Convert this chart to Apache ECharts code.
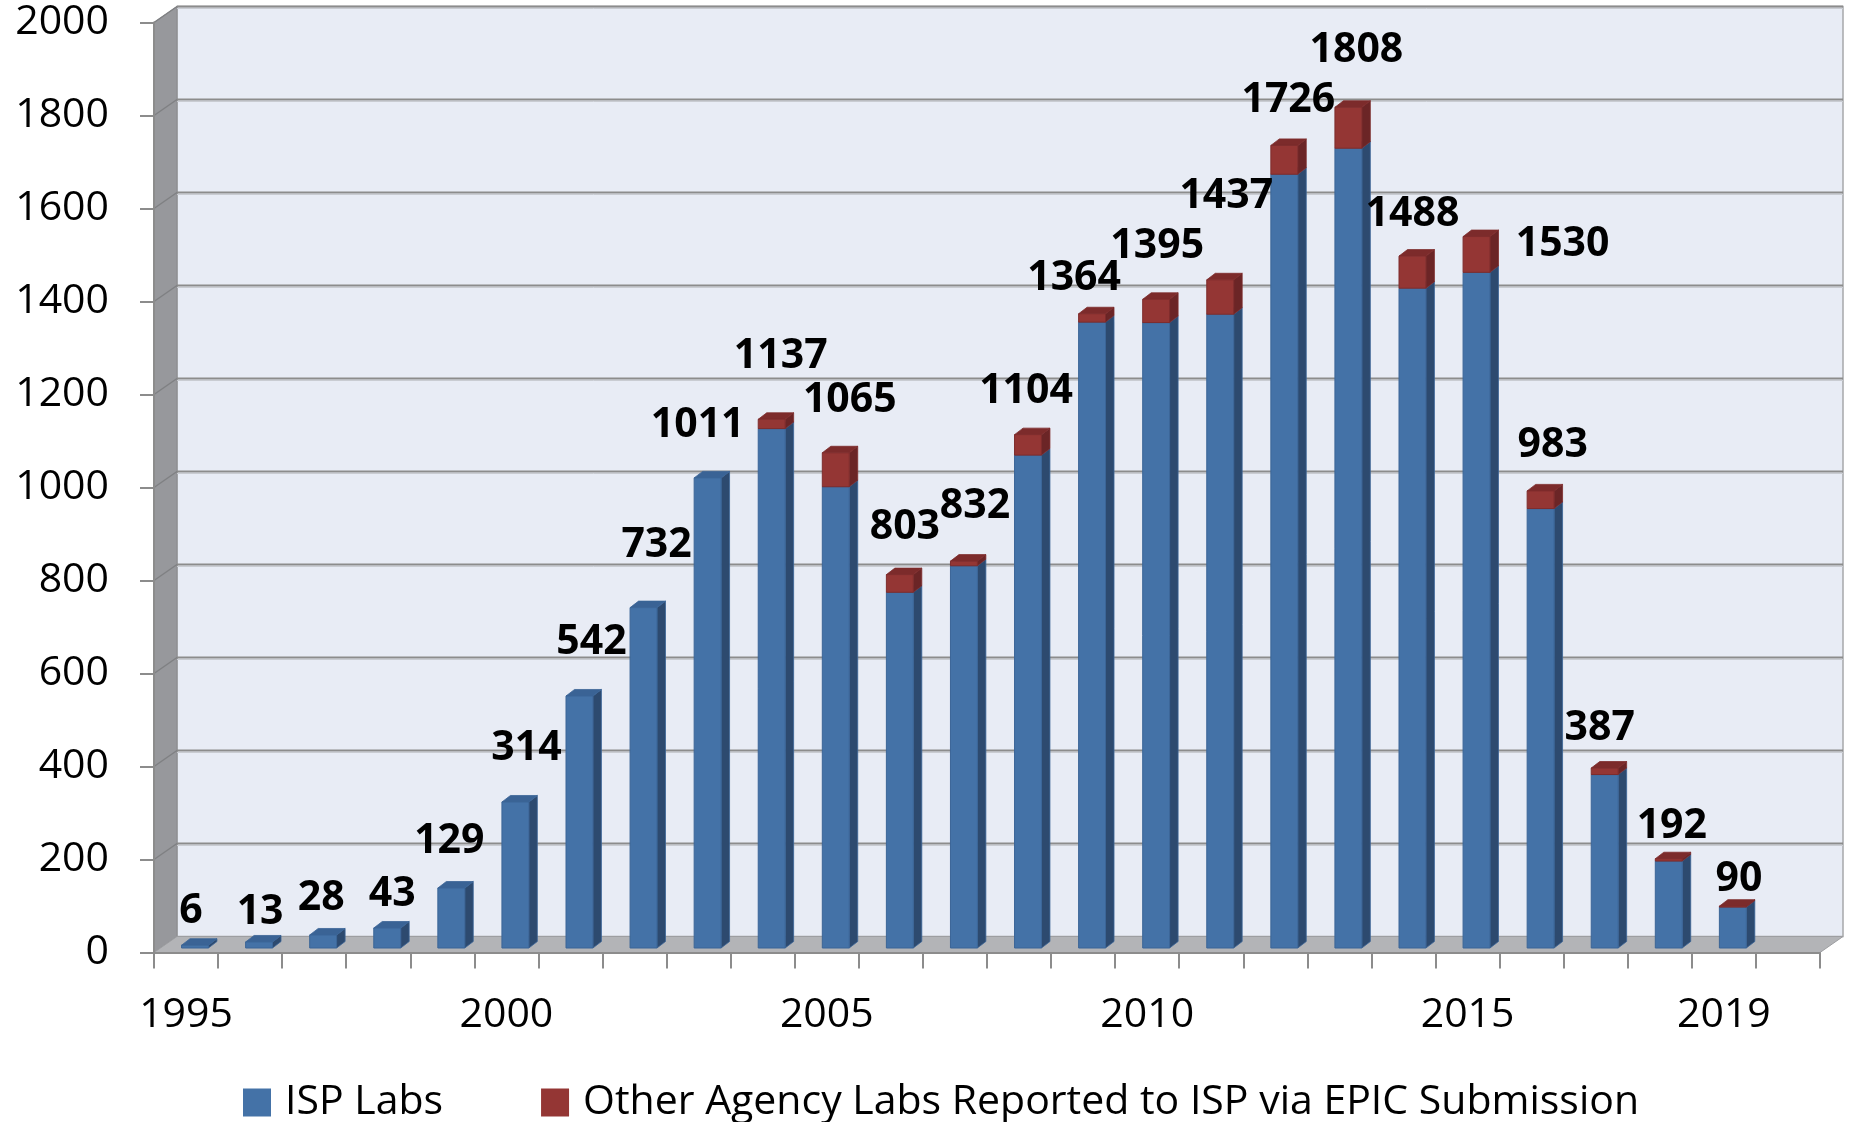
<!DOCTYPE html>
<html lang="en">
<head>
    <meta charset="UTF-8">
    <title>ISP Labs per year</title>
    <script src="https://cdn.jsdelivr.net/npm/echarts@6/dist/echarts.min.js"></script>
    <style>
        html, body { margin: 0; padding: 0; background: #fff; }
        #main { width: 1850px; height: 1122px; }
    </style>
</head>
<body>
<div id="main"></div>

<script type="text/javascript">
    // categories (last slot is empty in the original)
    var years = ['1995', '1996', '1997', '1998', '1999', '2000', '2001', '2002', '2003', '2004',
        '2005', '2006', '2007', '2008', '2009', '2010', '2011', '2012', '2013', '2014',
        '2015', '2016', '2017', '2018', '2019', '2020'];
    var shownYears = ['1995', '2000', '2005', '2010', '2015', '2019'];

    // series values
    var ispLabs = [6, 13, 28, 43, 129, 314, 542, 732, 1011, 1117,
        992, 765, 822, 1060, 1346, 1345, 1363, 1664, 1720, 1419,
        1453, 945, 373, 187, 88];
    var otherLabs = [0, 0, 0, 0, 0, 0, 0, 0, 0, 20,
        73, 38, 10, 44, 18, 50, 74, 62, 88, 69,
        77, 38, 14, 5, 2];

    var yTicks = [0, 200, 400, 600, 800, 1000, 1200, 1400, 1600, 1800, 2000];

    // hand placed total labels, pixel nudge from the bar top
    var labelShift = [[5, -38], [10, -34], [7, -41], [14, -38], [7, -51], [20, -58], [21, -58], [22, -67],
        [-1, -57], [18, -67], [23, -57], [14, -52], [20, -59], [7, -48], [-9, -40], [10, -57],
        [15, -88], [13, -50], [17, -61], [9, -46], [95, 3], [21, -50], [4, -44], [12, -37], [15, -31]];

    var FONT = '"Open Sans", "Noto Sans", sans-serif';
    var WALL_DX = 23, WALL_DY = -16;   // depth of the 3d box
    var BAR_DX = 8.5, BAR_DY = -6.5;   // depth of a bar
    var BAR_LIFT = -4.5;               // bars stand a bit behind the front edge
    var BAR_LEFT = -4.5;               // front face left, from category centre
    var BAR_RATIO = 0.42;

    var blue = {front: '#4472a7', side: '#2d4a6f', top: '#3a6395', edge: '#3b6597'};
    var red = {front: '#943634', side: '#6b2526', top: '#7c2b2b', edge: '#7e2c2c'};

    var ispData = [], otherData = [], totalData = [];
    for (var i = 0; i < ispLabs.length; i++) {
        ispData.push([i, 0, ispLabs[i]]);
        otherData.push([i, ispLabs[i], ispLabs[i] + otherLabs[i]]);
        totalData.push([i, ispLabs[i] + otherLabs[i]]);
    }

    function renderFrame(params, api) {
        var cs = params.coordSys;
        var x0 = cs.x, x1 = cs.x + cs.width, y0 = cs.y + cs.height;
        var yTop = api.coord([0, yTicks[yTicks.length - 1]])[1];
        var children = [];
        // back wall
        children.push({type: 'polygon', shape: {points: [
            [x0 + WALL_DX, yTop + WALL_DY], [x1 + WALL_DX, yTop + WALL_DY],
            [x1 + WALL_DX, y0 + WALL_DY], [x0 + WALL_DX, y0 + WALL_DY]]},
            style: {fill: '#e8ecf5', stroke: '#a6a8ab', lineWidth: 1.5}});
        // side wall
        children.push({type: 'polygon', shape: {points: [
            [x0, yTop], [x0 + WALL_DX, yTop + WALL_DY], [x0 + WALL_DX, y0 + WALL_DY], [x0, y0]]},
            style: {fill: '#97989c', stroke: '#8a8b8e', lineWidth: 1}});
        // floor
        children.push({type: 'polygon', shape: {points: [
            [x0, y0], [x0 + WALL_DX, y0 + WALL_DY], [x1 + WALL_DX, y0 + WALL_DY], [x1, y0]]},
            style: {fill: '#b3b4b7', stroke: '#9d9ea1', lineWidth: 1}});
        // grid lines on the back wall and the side wall
        for (var k = 1; k < yTicks.length; k++) {
            var yy = api.coord([0, yTicks[k]])[1];
            children.push({type: 'line', shape: {x1: x0 + WALL_DX, y1: yy + WALL_DY, x2: x1 + WALL_DX, y2: yy + WALL_DY},
                style: {stroke: '#8c8c8c', lineWidth: 2.2}});
            children.push({type: 'line', shape: {x1: x0 + WALL_DX, y1: yy + WALL_DY + 2, x2: x1 + WALL_DX, y2: yy + WALL_DY + 2},
                style: {stroke: '#c9ccd2', lineWidth: 1}});
            children.push({type: 'line', shape: {x1: x0, y1: yy, x2: x0 + WALL_DX, y2: yy + WALL_DY},
                style: {stroke: '#7f8083', lineWidth: 1.5}});
        }
        return {type: 'group', children: children};
    }

    function makeBarRenderer(col) {
        return function (params, api) {
            var lo = api.value(1), hi = api.value(2);
            if (!(hi > lo)) return null;
            var pb = api.coord([api.value(0), lo]);
            var pt = api.coord([api.value(0), hi]);
            var w = api.size([1, 0])[0] * BAR_RATIO;
            var L = pb[0] + BAR_LEFT, R = L + w;
            var yb = pb[1] + BAR_LIFT, yt = pt[1] + BAR_LIFT;
            return {type: 'group', children: [
                {type: 'polygon', shape: {points: [[R, yt], [R + BAR_DX, yt + BAR_DY], [R + BAR_DX, yb + BAR_DY], [R, yb]]},
                    style: {fill: col.side, stroke: col.edge, lineWidth: 0.8}},
                {type: 'polygon', shape: {points: [[L, yt], [L + BAR_DX, yt + BAR_DY], [R + BAR_DX, yt + BAR_DY], [R, yt]]},
                    style: {fill: col.top, stroke: col.edge, lineWidth: 0.8}},
                {type: 'rect', shape: {x: L, y: yt, width: w, height: yb - yt},
                    style: {fill: col.front, stroke: col.edge, lineWidth: 1}}
            ]};
        };
    }

    function renderLabel(params, api) {
        var idx = params.dataIndex;
        var p = api.coord([api.value(0), api.value(1)]);
        var s = labelShift[idx] || [0, -40];
        return {type: 'text', x: p[0] + s[0], y: p[1] + s[1],
            style: {text: String(api.value(1)), font: 'bold 41px ' + FONT, fill: '#000',
                align: 'center', verticalAlign: 'middle'}};
    }

    var myChart = echarts.init(document.getElementById('main'), null, {renderer: 'canvas'});

    var option = {
        backgroundColor: '#ffffff',
        animation: false,
        grid: {left: 154, right: 30, top: 22.5, bottom: 169.5, containLabel: false},
        legend: {
            data: ['ISP Labs', 'Other Agency Labs Reported to ISP via EPIC Submission'],
            left: 243,
            top: 1082,
            padding: 0,
            icon: 'rect',
            itemWidth: 28,
            itemHeight: 28,
            itemGap: 98,
            textStyle: {fontSize: 41, fontFamily: FONT, color: '#000', padding: [0, 0, 0, 9]}
        },
        xAxis: {
            type: 'category',
            data: years,
            boundaryGap: true,
            z: 5,
            axisLine: {show: true, lineStyle: {color: '#8c8c8c', width: 2}},
            axisTick: {show: true, interval: 0, length: 16, lineStyle: {color: '#8c8c8c', width: 2}},
            axisLabel: {
                interval: function (index, value) { return shownYears.indexOf(value) >= 0; },
                margin: 42,
                fontSize: 41,
                fontFamily: FONT,
                color: '#000'
            },
            splitLine: {show: false}
        },
        yAxis: {
            type: 'value',
            min: 0,
            max: 2000,
            interval: 200,
            z: 5,
            axisLine: {show: true, lineStyle: {color: '#8c8c8c', width: 2}},
            axisTick: {show: true, length: 14, lineStyle: {color: '#8c8c8c', width: 2}},
            axisLabel: {
                margin: 45,
                fontSize: 41,
                fontFamily: FONT,
                color: '#000',
                formatter: function (v) { return String(v); }
            },
            splitLine: {show: false}
        },
        series: [
            {
                type: 'custom',
                z: 1,
                silent: true,
                clip: false,
                renderItem: renderFrame,
                data: [[0, 0]]
            },
            {
                name: 'ISP Labs',
                type: 'custom',
                z: 2,
                clip: false,
                itemStyle: {color: blue.front},
                encode: {x: 0, y: [1, 2]},
                renderItem: makeBarRenderer(blue),
                data: ispData
            },
            {
                name: 'Other Agency Labs Reported to ISP via EPIC Submission',
                type: 'custom',
                z: 3,
                clip: false,
                itemStyle: {color: red.front},
                encode: {x: 0, y: [1, 2]},
                renderItem: makeBarRenderer(red),
                data: otherData
            },
            {
                type: 'custom',
                z: 4,
                clip: false,
                encode: {x: 0, y: 1},
                renderItem: renderLabel,
                data: totalData
            }
        ]
    };

    myChart.setOption(option);
</script>
</body>
</html>
